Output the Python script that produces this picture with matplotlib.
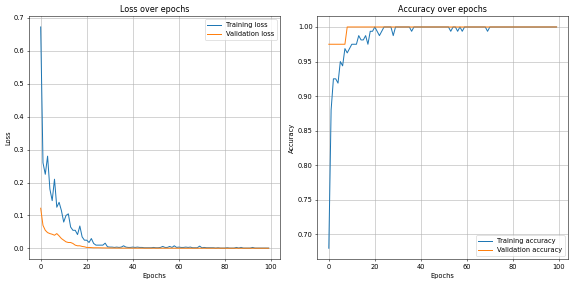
import matplotlib
matplotlib.use("Agg")
import matplotlib.pyplot as plt

epochs = list(range(100))

train_loss = [0.672, 0.26, 0.225, 0.28, 0.18, 0.145, 0.21, 0.125, 0.14, 0.115,
              0.08, 0.1, 0.105, 0.065, 0.055, 0.055, 0.042, 0.068, 0.035, 0.025,
              0.025, 0.018, 0.03, 0.015, 0.01, 0.01, 0.01, 0.01, 0.016, 0.005,
              0.004, 0.004, 0.003, 0.004, 0.003, 0.004, 0.008, 0.004, 0.003, 0.003,
              0.004, 0.003, 0.004, 0.003, 0.003, 0.002, 0.002, 0.002, 0.002, 0.003,
              0.002, 0.002, 0.003, 0.006, 0.003, 0.003, 0.006, 0.003, 0.008, 0.003,
              0.004, 0.003, 0.003, 0.004, 0.003, 0.004, 0.002, 0.002, 0.002, 0.007,
              0.002, 0.003, 0.002, 0.002, 0.002, 0.002, 0.001, 0.002, 0.001, 0.001,
              0.001, 0.002, 0.001, 0.001, 0.001, 0.003, 0.001, 0.003, 0.001, 0.001,
              0.001, 0.001, 0.003, 0.001, 0.001, 0.001, 0.001, 0.001, 0.001, 0.001]

val_loss = [0.122, 0.07, 0.055, 0.048, 0.045, 0.043, 0.04, 0.045, 0.038, 0.03,
            0.025, 0.02, 0.018, 0.018, 0.015, 0.01, 0.008, 0.008, 0.006, 0.005,
            0.003, 0.003, 0.0025, 0.002, 0.002, 0.002, 0.0018, 0.0016, 0.0015, 0.0014,
            0.0013, 0.0012, 0.0012, 0.0011, 0.0011, 0.001, 0.001, 0.001, 0.001, 0.001,
            0.0009, 0.0009, 0.0009, 0.0009, 0.0009, 0.0008, 0.0008, 0.0008, 0.0008, 0.0008,
            0.0008, 0.0008, 0.0008, 0.0008, 0.0008, 0.0008, 0.0008, 0.0008, 0.0008, 0.0008,
            0.0007, 0.0007, 0.0007, 0.0007, 0.0007, 0.0007, 0.0007, 0.0007, 0.0007, 0.0007,
            0.0007, 0.0007, 0.0007, 0.0007, 0.0007, 0.0007, 0.0007, 0.0007, 0.0007, 0.0007,
            0.0006, 0.0006, 0.0006, 0.0006, 0.0006, 0.0006, 0.0006, 0.0006, 0.0006, 0.0006,
            0.0006, 0.0006, 0.0006, 0.0006, 0.0006, 0.0006, 0.0006, 0.0006, 0.0006, 0.0006]

train_acc = [0.68, 0.88, 0.925, 0.925, 0.91875, 0.95, 0.94375, 0.96875, 0.9625, 0.96875,
             0.975, 0.975, 0.975, 0.9875, 0.98125, 0.98125, 0.9875, 0.975, 0.99375, 0.99375,
             1.0, 0.99375, 0.9875, 0.99375, 1.0, 1.0, 1.0, 1.0, 0.9875, 1.0,
             1.0, 1.0, 1.0, 1.0, 1.0, 1.0, 0.99375, 1.0, 1.0, 1.0,
             1.0, 1.0, 1.0, 1.0, 1.0, 1.0, 1.0, 1.0, 1.0, 1.0,
             1.0, 1.0, 1.0, 0.99375, 1.0, 1.0, 0.99375, 1.0, 0.99375, 1.0,
             1.0, 1.0, 1.0, 1.0, 1.0, 1.0, 1.0, 1.0, 1.0, 0.99375,
             1.0, 1.0, 1.0, 1.0, 1.0, 1.0, 1.0, 1.0, 1.0, 1.0,
             1.0, 1.0, 1.0, 1.0, 1.0, 1.0, 1.0, 1.0, 1.0, 1.0,
             1.0, 1.0, 1.0, 1.0, 1.0, 1.0, 1.0, 1.0, 1.0, 1.0]

val_acc = [0.975] * 8 + [1.0] * 92

dpi = 47.83
fig = plt.figure(figsize=(574 / dpi, 284 / dpi), dpi=dpi)
ax1 = fig.add_axes([0.051, 0.087, 0.437, 0.857])
ax2 = fig.add_axes([0.553, 0.087, 0.4365, 0.857])

ax1.plot(epochs, train_loss, label="Training loss")
ax1.plot(epochs, val_loss, label="Validation loss")
ax1.set_title("Loss over epochs")
ax1.set_xlabel("Epochs")
ax1.set_ylabel("Loss")
ax1.legend(loc="upper right")
ax1.grid(True)

ax2.plot(epochs, train_acc, label="Training accuracy")
ax2.plot(epochs, val_acc, label="Validation accuracy")
ax2.set_title("Accuracy over epochs")
ax2.set_xlabel("Epochs")
ax2.set_ylabel("Accuracy")
ax2.legend(loc="lower right")
ax2.grid(True)

fig.savefig("out.png", dpi=dpi)
